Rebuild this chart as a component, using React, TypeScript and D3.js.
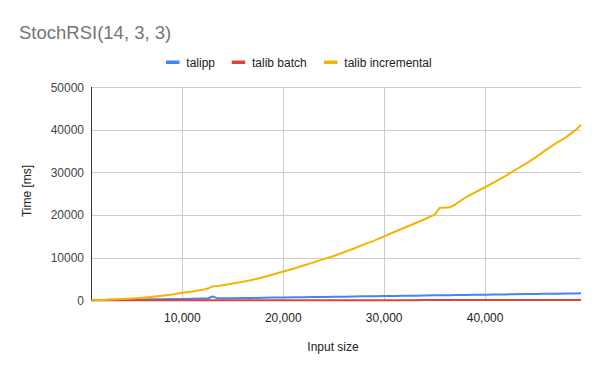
import React from "react";
import * as d3 from "d3";

const inputSizes = [1000,2000,3000,4000,5000,6000,7000,8000,9000,10000,11000,12000,12500,13000,13500,14000,15000,16000,17000,18000,19000,20000,21000,22000,23000,24000,25000,26000,27000,28000,29000,30000,31000,32000,33000,34000,35000,35500,36000,36500,37000,38000,39000,40000,41000,42000,43000,44000,45000,46000,47000,48000,49000,49500];

const talipp = [30,60,100,130,160,200,230,260,300,330,360,400,420,880,460,470,500,530,560,600,630,660,700,730,760,800,830,860,890,930,960,990,1020,1060,1090,1120,1160,1170,1190,1200,1220,1250,1290,1320,1350,1380,1420,1450,1480,1520,1550,1580,1620,1640];

const talibBatch = [2,4,5,6,8,9,10,11,12,14,15,16,16,17,18,19,20,21,22,24,25,26,27,28,29,31,32,33,34,35,36,38,39,40,41,42,43,43,44,45,46,47,48,49,50,51,52,54,55,56,57,58,59,60];

const talibIncremental = [20,80,160,290,440,620,830,1080,1360,1750,2050,2450,2750,3250,3350,3550,3950,4350,4800,5400,6050,6750,7400,8150,8900,9650,10400,11250,12150,13100,14000,15000,16000,17000,18000,19000,20100,21700,21700,21800,22400,24000,25300,26500,27800,29100,30600,32000,33500,35200,36800,38200,40000,41100];

const yTicks = [0, 10000, 20000, 30000, 40000, 50000];
const xTicks = [10000, 20000, 30000, 40000];

const seriesNames = ["talipp", "talib batch", "talib incremental"];
const seriesColors = ["#4285F4", "#DB4437", "#F4B400"];
const seriesValues = [talipp, talibBatch, talibIncremental];

const W = 600, H = 371;
const FONT = "Arial, 'Liberation Sans', sans-serif";

export default function App() {
  const x = d3.scaleLinear().domain([1000, 49500]).range([91.5, 581]);
  const y = d3.scaleLinear().domain([0, 50000]).range([300.3, 87]);
  const line = d3.line<[number, number]>().x(d => x(d[0])).y(d => y(d[1]));
  const fmt = d3.format(",");

  const legendX = [166, 231.7, 324];

  return (
    <svg width={W} height={H} style={{ position: "absolute", left: 0, top: 0, background: "#fff" }} fontFamily={FONT}>
      <rect x={0} y={0} width={W} height={H} fill="#fff" />
      <text x={19} y={38.5} fontSize={18.5} fill="#757575">StochRSI(14, 3, 3)</text>

      {seriesNames.map((n, i) => (
        <g key={n}>
          <rect x={legendX[i]} y={60.5} width={13.5} height={3.5} fill={seriesColors[i]} />
          <text x={legendX[i] + 20.3} y={66.5} fontSize={12} fill="#222">{n}</text>
        </g>
      ))}

      {yTicks.map(t => (
        <g key={"y" + t}>
          {t > 0 && <line x1={91} x2={581} y1={Math.round(y(t)) + 0.5} y2={Math.round(y(t)) + 0.5} stroke="#cccccc" strokeWidth={1} />}
          <text x={84} y={y(t) + 4.5} fontSize={12} fill="#444" textAnchor="end">{t}</text>
        </g>
      ))}
      {xTicks.map(t => (
        <g key={"x" + t}>
          <line x1={Math.round(x(t)) + 0.5} x2={Math.round(x(t)) + 0.5} y1={87} y2={300} stroke="#cccccc" strokeWidth={1} />
          <text x={x(t)} y={322} fontSize={12} fill="#222" textAnchor="middle">{fmt(t)}</text>
        </g>
      ))}

      <line x1={91.5} x2={91.5} y1={87} y2={301} stroke="#333" strokeWidth={1} />

      {seriesValues.map((vals, i) => (
        <path key={i}
          d={line(inputSizes.map((s, k) => [s, vals[k]] as [number, number])) || ""}
          fill="none" stroke={seriesColors[i]} strokeWidth={2} strokeLinejoin="round" />
      ))}

      <text x={333} y={351} fontSize={12} fill="#222" textAnchor="middle">Input size</text>
      <text transform={`translate(31, 191) rotate(-90)`} fontSize={12} fill="#222" textAnchor="middle">Time [ms]</text>
    </svg>
  );
}
